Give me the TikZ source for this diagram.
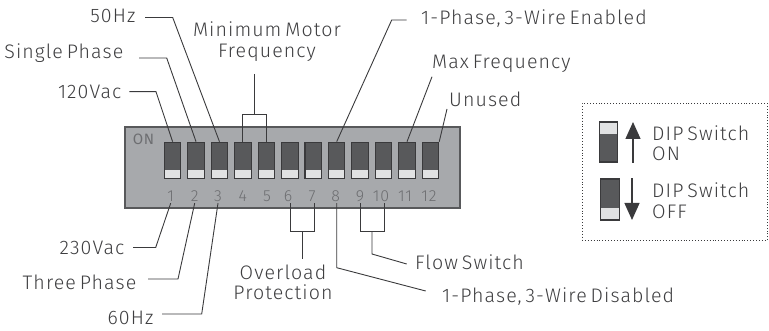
\documentclass[tikz,border=0pt]{standalone}
\usepackage{fontspec}
\setmainfont{Fira Sans Light}[LetterSpace=5.5,WordSpace=0.6]
\newfontfamily\onfont{Fira Sans}[LetterSpace=4]
\usetikzlibrary{arrows.meta}
\definecolor{txt}{HTML}{3E3E40}
\definecolor{ink}{HTML}{3A3A3C}
\definecolor{panelfill}{HTML}{A7A9AC}
\definecolor{paneledge}{HTML}{58595B}
\definecolor{swdark}{HTML}{58595B}
\definecolor{swlight}{HTML}{E1E2E3}
\definecolor{panelnum}{HTML}{6D6E71}
\tikzset{
  lbl/.style={inner sep=0pt,text=txt,font=\fontsize{19.6}{21}\selectfont,align=center},
  lead/.style={draw=ink,line width=.9pt},
  swbox/.style={draw=ink,line width=1.1pt,fill=swdark,minimum width=16.5pt,minimum height=36.5pt,inner sep=0pt},
  num/.style={inner sep=0pt,minimum height=14pt,text=panelnum,font=\fontsize{16}{16}\selectfont},
  bigarrow/.style={draw=ink,line width=1.3pt,-{Triangle[length=17pt,width=15pt]}},
}
\begin{document}
\begin{tikzpicture}[x=1pt,y=-1pt]
\useasboundingbox (0,0) rectangle (769,331);
% panel
\node[draw=paneledge,line width=1.3pt,fill=panelfill,minimum width=335pt,minimum height=81pt,inner sep=0pt] (panel) at (292.5,167.5) {};
\node[inner sep=0pt,text=panelnum,font=\onfont\fontsize{15}{15}\selectfont] (onlabel) at (143.5,139) {ON};
% switches
\foreach \i in {1,...,12}{
  \node[swbox] (sw\i) at ({172.6+(\i-1)*23.44},160.5) {};
  \fill[swlight] ([shift={(1.1pt,1.1pt)}]sw\i.south west) rectangle ([shift={(-1.1pt,9.6pt)}]sw\i.south east);
}
% numbers
\foreach \i/\x in {1/170.7,2/194.7,3/218,4/242.7,5/267,6/288,7/312,8/335.7,9/360,10/381,11/405,12/429}{
  \node[num] (n\i) at (\x,196) {\i};
}
% labels
\node[lbl,anchor=east] (l50) at (135.5,16) {50Hz};
\node[lbl,anchor=east] (lsingle) at (123.5,53) {Single Phase};
\node[lbl,anchor=east] (l120) at (121.5,92) {120Vac};
\node[lbl] (lmin) at (267,41.5) {Minimum Motor\\[-.5pt]Frequency};
\node[lbl,anchor=west] (lena) at (421,19) {1-Phase, 3-Wire Enabled};
\node[lbl,anchor=west] (lmax) at (432,64) {Max Frequency};
\node[lbl,anchor=west] (lun) at (449,99) {Unused};
\node[lbl,anchor=east] (l230) at (124.5,248) {230Vac};
\node[lbl,anchor=east] (lthree) at (136.5,282) {Three Phase};
\node[lbl,anchor=east] (l60) at (153.5,318) {60Hz};
\node[lbl] (lover) at (283,282.5) {Overload\\[-.5pt]Protection};
\node[lbl,anchor=west] (lflow) at (415,262) {Flow Switch};
\node[lbl,anchor=west] (ldis) at (442,297) {1-Phase, 3-Wire Disabled};
% connector free ends
\coordinate (a50) at (145,17.5);
\coordinate (asingle) at (139,58);
\coordinate (a120) at (129.3,91.7);
\coordinate (amin) at (254.3,74);
\coordinate (aena) at (406.7,20);
\coordinate (amax) at (432,76.7);
\coordinate (aun) at (447,109);
\coordinate (a230) at (133,247.5);
\coordinate (athree) at (148,279);
\coordinate (a60) at (162,314);
\coordinate (aover) at (302,258.7);
\coordinate (aflow) at (406.7,264);
\coordinate (adis) at (425.7,291);
% connectors
\draw[lead] (a50) -- (172.7,17.5) -- (sw3.north);
\draw[lead] (asingle) -- (166.7,58) -- (sw2.north);
\draw[lead] (a120) -- (156,91.7) -- (sw1.north);
\draw[lead] (sw4.north) |- (254.3,114.7) -| (sw5.north);
\draw[lead] (amin) -- (254.3,114.7);
\draw[lead] (aena) -- (391.7,20) -- (sw8.north);
\draw[lead] (amax) -- (sw11.north);
\draw[lead] (aun) -- (sw12.north east);
\draw[lead] (a230) -- (155.7,247.5) -- (n1.south);
\draw[lead] (athree) -- (178,279) -- (n2.south);
\draw[lead] (a60) -- (201.7,314) -- (n3.south);
\draw[lead] ([xshift=2.3pt]n6.south) |- (302,231.7) -| ([xshift=2pt]n7.south);
\draw[lead] (aover) -- (302,231.7);
\draw[lead] ([xshift=1pt]n8.south) |- (336.7,267.7) -- (adis);
\draw[lead] ([xshift=.7pt]n9.south) |- (372,231.7) -| ([xshift=3pt]n10.south);
\draw[lead] (372,231.7) |- (372,254) -- (aflow);
% legend
\node[draw=ink,dotted,line width=.9pt,minimum width=185pt,minimum height=137.5pt,inner sep=0pt] (legend) at (674.5,172) {};
\node[swbox,minimum width=18.5pt,minimum height=40pt] (swon) at (608.5,142) {};
\fill[swlight] ([shift={(1.1pt,-1.1pt)}]swon.north west) rectangle ([shift={(-1.1pt,-13pt)}]swon.north east);
\node[swbox,minimum width=18.5pt,minimum height=41pt] (swoff) at (609.8,199.5) {};
\fill[swlight] ([shift={(1.1pt,1.1pt)}]swoff.south west) rectangle ([shift={(-1.1pt,13pt)}]swoff.south east);
\draw[bigarrow] (swon.south east -| 633,0) -- (633,122);
\draw[bigarrow] (swoff.north east -| 632,0) -- (632,220);
\node[lbl,anchor=west,align=left] (lon) at (652,143) {DIP Switch\\[-.5pt]ON};
\node[lbl,anchor=west,align=left] (loff) at (652,200.5) {DIP Switch\\[-.5pt]OFF};
\end{tikzpicture}
\end{document}
